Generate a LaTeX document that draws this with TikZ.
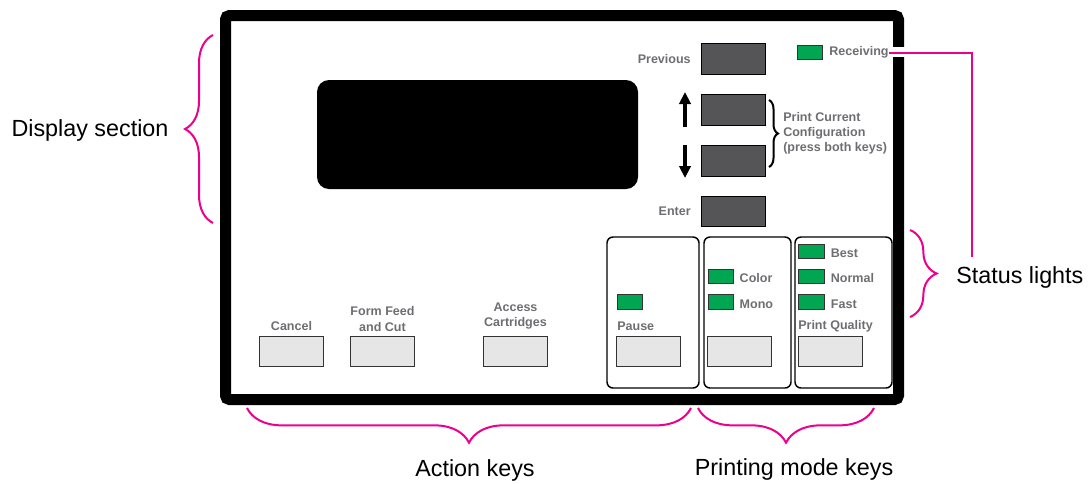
\documentclass[tikz,border=0pt]{standalone}
\usepackage{fontspec}
\setmainfont{Liberation Sans}
\usepackage{xcolor}
\usetikzlibrary{arrows.meta,positioning,decorations.pathreplacing}
\definecolor{keygray}{RGB}{85,85,87}
\definecolor{keylight}{RGB}{230,230,231}
\definecolor{ledgreen}{RGB}{0,166,81}
\definecolor{labgray}{RGB}{109,110,113}
\definecolor{callout}{RGB}{236,0,140}
\tikzset{
  dkey/.style={draw=black, fill=keygray, line width=0.8pt, minimum width=48pt, minimum height=23pt, inner sep=0pt},
  lkey/.style={draw=black!80, fill=keylight, line width=0.8pt, minimum width=48pt, minimum height=23pt, inner sep=0pt},
  led/.style={draw=black!80, fill=ledgreen, line width=0.7pt, minimum width=19pt, minimum height=11pt, inner sep=0pt},
  lbl/.style={font=\fontsize{9.4}{11.4}\selectfont\bfseries, text=labgray, inner sep=0pt, align=center},
  ledlbl/.style={lbl, yshift=-1.5pt},
  panel/.style={draw=black, line width=1.1pt, rounded corners=4.5pt},
  big/.style={font=\fontsize{17.5}{20}\selectfont, inner sep=0pt},
  brc/.style={draw=callout, line width=1.5pt, decorate, decoration={brace, amplitude=#1}},
  lead/.style={draw=callout, line width=1.5pt},
  updown/.style={-{Triangle[length=9pt,width=8.5pt]}, line width=2.4pt},
}

\begin{document}
\begin{tikzpicture}[x=0.75pt, y=-0.75pt]
  \useasboundingbox (0,0) rectangle (1088,483);

  % front panel
  \draw[line width=8.25pt, rounded corners=3pt] (225.5,15.5) rectangle (898.5,399.5);
  \node[fill=black, rounded corners=9pt, minimum width=240.75pt, minimum height=81.75pt, inner sep=0pt] (display) at (477.5,134.5) {};

  % menu keys
  \node[dkey] (prevkey)  at (733.5,59)    {};
  \node[dkey] (upkey)    at (733.5,110)   {};
  \node[dkey] (downkey)  at (733.5,161)   {};
  \node[dkey] (enterkey) at (733.5,211.5) {};
  \node[lbl, left=7.5pt of prevkey]  (prevtxt)  {Previous};
  \node[lbl, left=7.5pt of enterkey] (entertxt) {Enter};
  \draw[updown] (685,127) -- (685,92);
  \draw[updown] (685,145) -- (685,178);
  \draw[line width=1.5pt, decorate, decoration={brace, amplitude=6.75pt}] (769,100) -- (769,167);
  \node[lbl, align=left, anchor=west] (configtxt) at (783,133)
    {Print Current\\Configuration\\(press both keys)};

  \node[led] (recvled) at (810,52.5) {};
  \node[lbl, right=4.5pt of recvled] (recvtxt) {Receiving};

  % action keys
  \node[lkey] (cancelkey) at (291.5,351.5) {};
  \node[lkey] (ffkey)     at (382.5,351.5) {};
  \node[lkey] (acckey)    at (515.5,351.5) {};
  \node[lbl] (canceltxt) at (291.5,326)   {Cancel};
  \node[lbl] (fftxt)     at (382.5,319) {Form Feed\\and Cut};
  \node[lbl] (acctxt)    at (515.5,316) {Access\\Cartridges};

  % printing mode panels
  \draw[panel] (607,237) rectangle (699,388);
  \draw[panel] (704,237) rectangle (791,388);
  \draw[panel] (795,237) rectangle (892,388);

  \node[lkey] (pausekey) at (648.5,351.5) {};
  \node[lkey] (modekey)  at (739.5,351.5) {};
  \node[lkey] (pqkey)    at (830.5,351.5) {};

  \node[led] (pauseled)  at (630,302)     {};
  \node[led] (colorled)  at (721,276.5)   {};
  \node[led] (monoled)   at (721,302)     {};
  \node[led] (bestled)   at (811.5,251.5) {};
  \node[led] (normalled) at (811.5,276.5) {};
  \node[led] (fastled)   at (811.5,302)   {};

  \node[lbl, anchor=west] (pausetxt) at (617,326) {Pause};
  \node[ledlbl, right=4pt of colorled]  (colortxt)  {Color};
  \node[ledlbl, right=4pt of monoled]   (monotxt)   {Mono};
  \node[ledlbl, right=4.5pt of bestled]   (besttxt)   {Best};
  \node[ledlbl, right=4.5pt of normalled] (normaltxt) {Normal};
  \node[ledlbl, right=4.5pt of fastled]   (fasttxt)   {Fast};
  \node[lbl, anchor=west] (pqtxt) at (798,326) {Print Quality};

  % callouts
  \node[big] (disptxt)   at (90,130)  {Display section};
  \node[big, anchor=west] (statustxt) at (956,277) {Status lights};
  \node[big] (actiontxt) at (475,470) {Action keys};
  \node[big] (modetxt)   at (794,469) {Printing mode keys};

  \draw[brc=21pt] (213,223) -- (213,35);
  \draw[brc=20pt] (910,230) -- (910,317);
  \draw[brc=26pt] (691,408) -- (247,408);
  \draw[brc=26pt] (874,408) -- (698,408);

  \coordinate (leadend) at (972,257);
  \draw[white, line width=7pt] (892,52) -- (906,52);
  \draw[lead] (recvtxt.east) -| (leadend);
\end{tikzpicture}
\end{document}
